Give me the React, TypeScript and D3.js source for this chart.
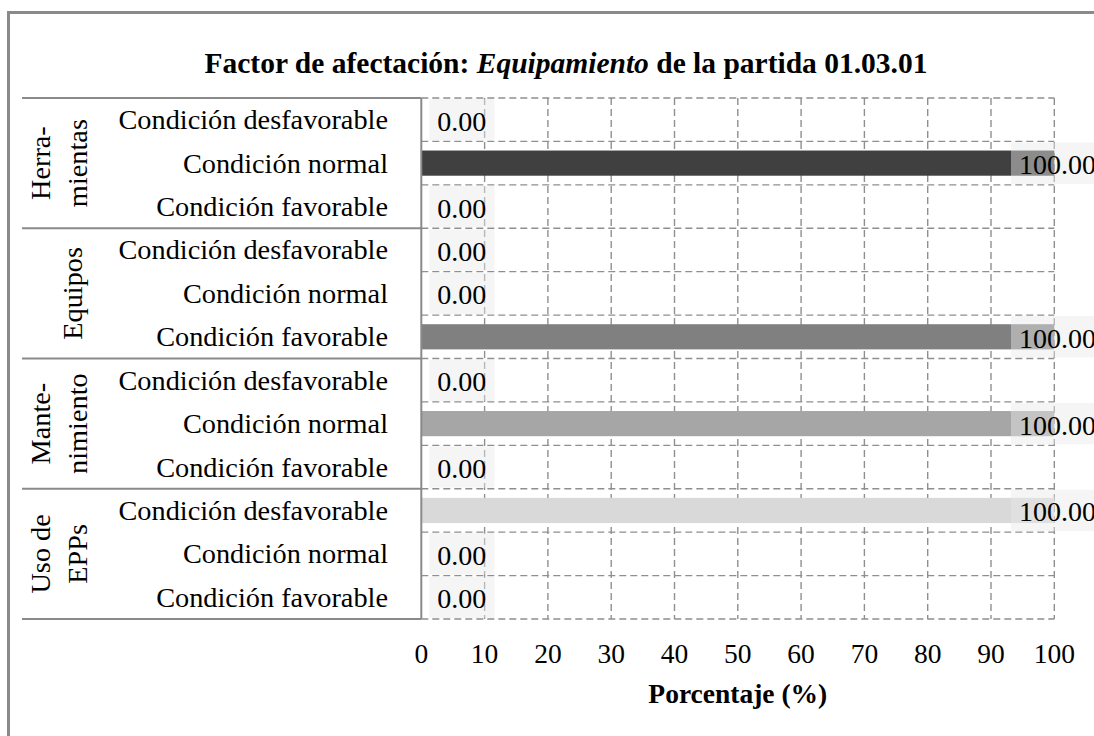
import React from 'react';
import * as d3 from 'd3';

// data
const groups = ['Herramientas', 'Equipos', 'Mantenimiento', 'Uso de EPPs'];
const groupLines = [['Herra-', 'mientas'], ['Equipos'], ['Mante-', 'nimiento'], ['Uso de', 'EPPs']];
const conditions = ['Condición desfavorable', 'Condición normal', 'Condición favorable'];
const herramientas = [0, 100, 0];
const equipos = [0, 0, 100];
const mantenimiento = [0, 100, 0];
const usoEpps = [100, 0, 0];
const groupColors = ['#404040', '#808080', '#a6a6a6', '#d9d9d9'];
const xTicks = [0, 10, 20, 30, 40, 50, 60, 70, 80, 90, 100];

const W = 1094;
const H = 736;
const FONT = '"Liberation Serif", "Times New Roman", serif';

const App = () => {
  const seriesByGroup = [herramientas, equipos, mantenimiento, usoEpps];
  const rows = groups.flatMap((g, gi) =>
    conditions.map((c, ci) => ({ id: `${gi}-${ci}`, group: gi, cond: c, value: seriesByGroup[gi][ci] }))
  );

  const x = d3.scaleLinear().domain([0, 100]).range([421.3, 1054.3]);
  const y = d3.scaleBand<string>().domain(rows.map((r) => r.id)).range([98, 619]).padding(0);
  const bw = y.bandwidth();
  const barH = bw * 0.58;
  const gridColor = '#8f8f8f';
  const lineColor = '#8a8a8a';
  const labelRight = 1104;
  const fmt = d3.format('.2f');

  const groupTop = (gi: number) => y(`${gi}-0`) as number;
  const groupBottom = (gi: number) => (y(`${gi}-2`) as number) + bw;

  return (
    <svg width={W} height={H} style={{ position: 'absolute', left: 0, top: 0, background: '#fff' }} fontFamily={FONT}>
      {/* outer frame */}
      <line x1={8.5} x2={8.5} y1={11} y2={H} stroke={lineColor} strokeWidth={3} />
      <line x1={7} x2={W} y1={12.5} y2={12.5} stroke={lineColor} strokeWidth={3} />

      <text x={566} y={73} textAnchor="middle" fontSize={29.5} fontWeight="bold" fill="#000">
        Factor de afectación: <tspan fontStyle="italic">Equipamiento</tspan> de la partida 01.03.01
      </text>

      {/* grid */}
      {xTicks.slice(1).map((t) => (
        <line key={'v' + t} x1={x(t)} x2={x(t)} y1={98} y2={619} stroke={gridColor} strokeWidth={1.4} strokeDasharray="7,4" />
      ))}
      {d3.range(rows.length + 1).map((i) => {
        const yy = 98 + i * bw;
        return <line key={'h' + i} x1={x(0)} x2={x(100)} y1={yy} y2={yy} stroke={gridColor} strokeWidth={1.4} strokeDasharray="7,4" />;
      })}

      {/* bars */}
      {rows.map((r) => (
        <rect
          key={'b' + r.id}
          x={x(0)}
          y={(y(r.id) as number) + (bw - barH) / 2}
          width={x(r.value) - x(0)}
          height={barH}
          fill={groupColors[r.group]}
        />
      ))}

      {/* axis and category separators */}
      <line x1={x(0)} x2={x(0)} y1={98} y2={619} stroke={lineColor} strokeWidth={2} />
      {groups.map((g, gi) => (
        <line key={'s' + gi} x1={22} x2={x(0)} y1={groupTop(gi)} y2={groupTop(gi)} stroke={lineColor} strokeWidth={2} />
      ))}
      <line x1={22} x2={x(0)} y1={619} y2={619} stroke={lineColor} strokeWidth={2} />

      {/* category labels */}
      {rows.map((r) => (
        <text key={'c' + r.id} x={388} y={(y(r.id) as number) + bw / 2 + 9.5} textAnchor="end" fontSize={28.3} fill="#000">
          {r.cond}
        </text>
      ))}

      {/* group labels */}
      {groups.map((g, gi) => {
        const cy = (groupTop(gi) + groupBottom(gi)) / 2;
        const lines = groupLines[gi];
        const xs = lines.length === 2 ? [50, 87] : [82];
        return lines.map((ln, li) => (
          <text
            key={'g' + gi + li}
            transform={`translate(${xs[li]},${cy}) rotate(-90)`}
            textAnchor="middle"
            fontSize={28.3}
            fill="#000"
          >
            {ln}
          </text>
        ));
      })}

      {/* value labels */}
      {rows.map((r) => {
        const txt = fmt(r.value);
        const boxW = txt.length * 14 + 16 - (txt.split('.').length - 1) * 7;
        const bx = Math.min(x(r.value) + 8, labelRight - boxW);
        const top = y(r.id) as number;
        return (
          <g key={'l' + r.id}>
            <rect x={bx} y={top + 1} width={boxW} height={bw - 2} fill="#e9e9e9" fillOpacity={0.45} />
            <text x={bx + 8} y={top + bw / 2 + 11} fontSize={28} fill="#000">
              {txt}
            </text>
          </g>
        );
      })}

      {/* x tick labels */}
      {xTicks.map((t) => (
        <text key={'t' + t} x={x(t)} y={663} textAnchor="middle" fontSize={27.5} fill="#000">
          {t}
        </text>
      ))}
      <text x={(x(0) + x(100)) / 2} y={703} textAnchor="middle" fontSize={27.5} fontWeight="bold" fill="#000">
        Porcentaje (%)
      </text>
    </svg>
  );
};

export default App;
